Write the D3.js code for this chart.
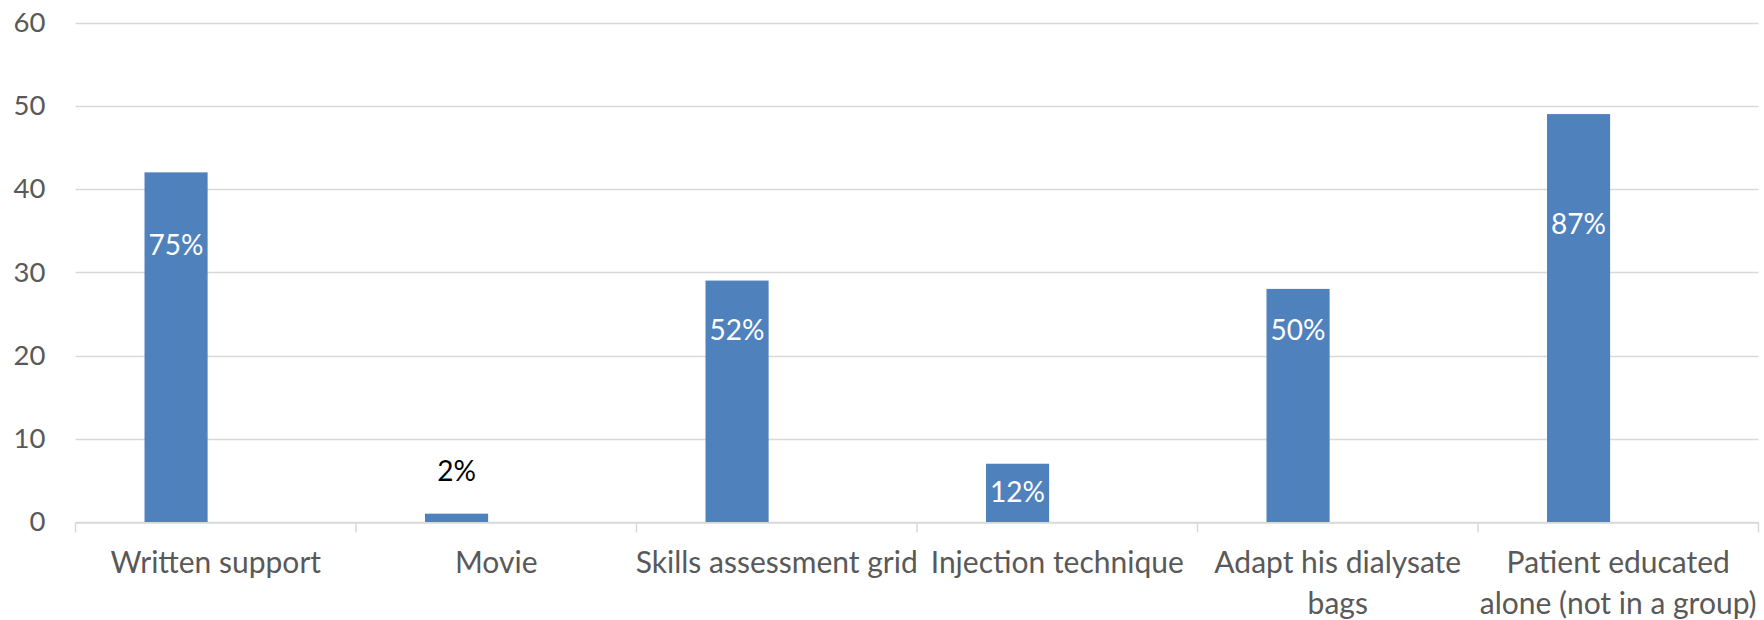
<!DOCTYPE html>
<html lang="en">
  <head>
    <meta charset="UTF-8" />
    <title>Education tools</title>
    <script src="https://d3js.org/d3.v7.min.js"></script>
    <style>
      body { margin: 0; background: #fff; }
      svg text { font-family: Lato, "Open Sans", sans-serif; }
    </style>
  </head>
  <body>
    <svg class="bar-chart"></svg>

    <script>
      let width = 1764
      let height = 620

      let categories = [
        'Written support',
        'Movie',
        'Skills assessment grid',
        'Injection technique',
        'Adapt his dialysate bags',
        'Patient educated alone (not in a group)',
      ]
      // how the category names wrap under the axis
      let categoryLines = [
        ['Written support'],
        ['Movie'],
        ['Skills assessment grid'],
        ['Injection technique'],
        ['Adapt his dialysate', 'bags'],
        ['Patient educated', 'alone (not in a group)'],
      ]
      let counts = [42, 1, 29, 7, 28, 49]
      let pctLabels = ['75%', '2%', '52%', '12%', '50%', '87%']
      // where each percentage label sits, in axis units
      let labelAt = [33.2, 6.1, 23.0, 3.6, 23.0, 35.8]
      let yTicks = [0, 10, 20, 30, 40, 50, 60]
      let series = ['count', 'empty']

      let margin = { top: 22.5, right: 5.5, bottom: 98, left: 75.5 }

      let svg = d3.select('svg.bar-chart')
        .attr('width', width)
        .attr('height', height)

      let x = d3.scaleBand()
        .domain(categories)
        .range([margin.left, width - margin.right])

      let bw = x.bandwidth()
      let xInner = d3.scaleBand()
        .domain(series)
        .range([0.246 * bw, 0.696 * bw])

      let y = d3.scaleLinear()
        .domain([0, 60])
        .range([height - margin.bottom, margin.top])

      // gridlines
      svg.append('g')
        .selectAll('line')
        .data(yTicks)
        .enter()
        .append('line')
        .attr('x1', margin.left)
        .attr('x2', width - margin.right)
        .attr('y1', d => Math.round(y(d)) + 0.5)
        .attr('y2', d => Math.round(y(d)) + 0.5)
        .style('stroke', '#d9d9d9')
        .style('stroke-width', 1.5)

      // y axis labels
      let yAxis = d3.axisLeft(y).tickValues(yTicks).tickSize(0).tickPadding(30)
      let yg = svg.append('g')
        .attr('transform', `translate(${margin.left}, 0)`)
        .call(yAxis)
      yg.select('.domain').remove()
      yg.selectAll('text')
        .style('font-size', '27.5px')
        .style('fill', '#595959')

      // category axis
      let xAxis = d3.axisBottom(x).tickSize(0).tickFormat('')
      let xg = svg.append('g')
        .attr('transform', `translate(0, ${Math.round(y(0)) + 0.5})`)
        .call(xAxis)
      xg.select('.domain').style('stroke', '#d9d9d9').style('stroke-width', 1.5)
      xg.selectAll('.tick').remove()

      let boundaries = categories.map(c => x(c)).concat([x(categories[categories.length - 1]) + bw])
      xg.selectAll('line.sep')
        .data(boundaries)
        .enter()
        .append('line')
        .attr('class', 'sep')
        .attr('x1', d => d)
        .attr('x2', d => d)
        .attr('y1', 0)
        .attr('y2', 10)
        .style('stroke', '#d9d9d9')
        .style('stroke-width', 1.5)

      xg.selectAll('text.cat')
        .data(categories)
        .enter()
        .append('text')
        .attr('class', 'cat')
        .attr('x', d => x(d) + bw / 2)
        .attr('y', 40)
        .attr('text-anchor', 'middle')
        .style('font-size', '30px')
        .style('fill', '#595959')
        .each(function (d, i) {
          let t = d3.select(this)
          categoryLines[i].forEach((line, j) => {
            t.append('tspan')
              .attr('x', x(d) + bw / 2)
              .attr('dy', j === 0 ? '0.35em' : '1.35em')
              .text(line)
          })
        })

      // bars
      svg.append('g')
        .selectAll('rect')
        .data(counts)
        .enter()
        .append('rect')
        .attr('x', (d, i) => x(categories[i]) + xInner('count'))
        .attr('width', xInner.bandwidth())
        .attr('y', d => y(d))
        .attr('height', d => y(0) - y(d))
        .style('fill', '#4f81bd')

      // percentage labels
      svg.append('g')
        .selectAll('text')
        .data(pctLabels)
        .enter()
        .append('text')
        .attr('x', (d, i) => x(categories[i]) + xInner('count') + xInner.bandwidth() / 2)
        .attr('y', (d, i) => y(labelAt[i]))
        .attr('dy', '0.35em')
        .attr('text-anchor', 'middle')
        .style('font-size', '28px')
        .style('fill', (d, i) => (labelAt[i] > counts[i] ? '#000000' : '#ffffff'))
        .text(d => d)
    </script>
  </body>
</html>
